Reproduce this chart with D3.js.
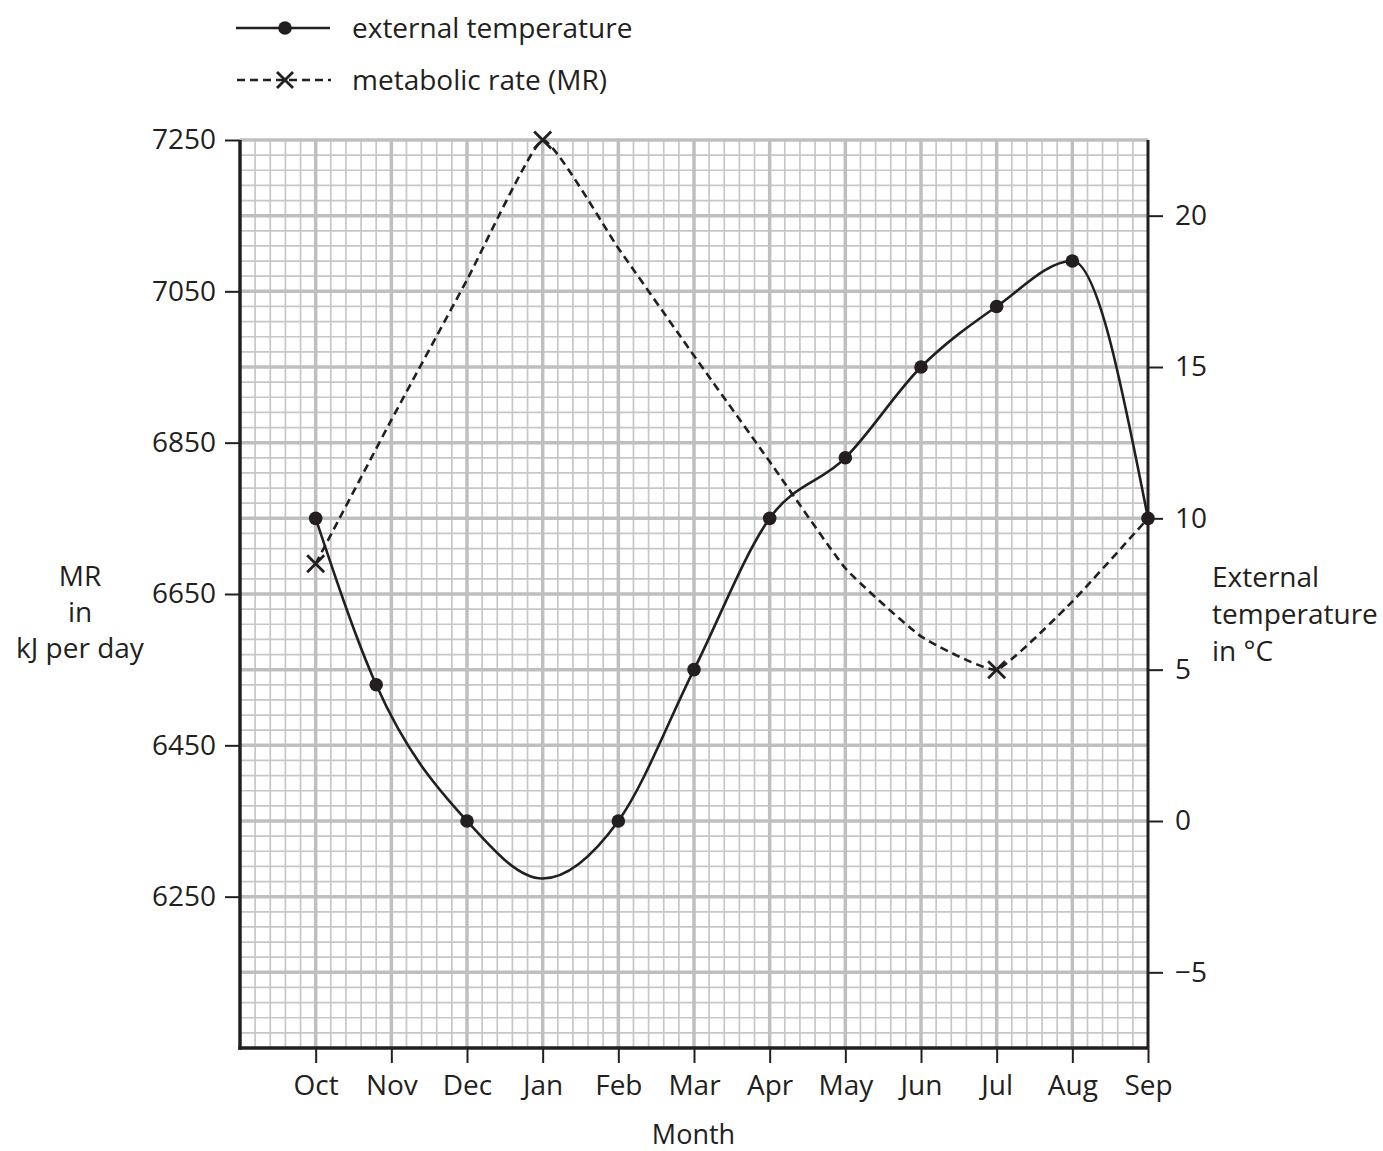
<!DOCTYPE html>
<html lang="en">
    <head>
        <style>
            body {
                margin: 0;
                background: #fff;
            }
            text {
                font-family: "Open Sans", sans-serif;
                font-size: 28px;
                fill: #231f20;
            }
            .minor {
                stroke: #c7c7c9;
                stroke-width: 1.7px;
            }
            .major {
                stroke: #bfbfc1;
                stroke-width: 3.5px;
            }
            .axisline {
                stroke: #231f20;
                stroke-width: 3.5px;
            }
            .tick line {
                stroke: #231f20;
                stroke-width: 2px;
            }
            .temp {
                fill: none;
                stroke: #231f20;
                stroke-width: 2.6px;
            }
            .mr {
                fill: none;
                stroke: #231f20;
                stroke-width: 2.6px;
                stroke-dasharray: 8 5;
            }
            .cross {
                stroke: #231f20;
                stroke-width: 2.8px;
            }
        </style>
        <script src="https://d3js.org/d3.v7.min.js"></script>
        <title>MR and external temperature</title>
    </head>
    <body>
        <div id="chart"></div>
        <script>
            // data
            var months = ["Oct", "Nov", "Dec", "Jan", "Feb", "Mar", "Apr", "May", "Jun", "Jul", "Aug", "Sep"];

            // temperature: position on the month axis (Nov point sits left of its line), value in °C
            // Jan has no dot but the curve runs down to about -1.9 there
            var tempPos = [0, 0.8, 2, 3, 4, 5, 6, 7, 8, 9, 10, 11];
            var tempValues = [10, 4.5, 0, -1.9, 0, 5, 10, 12, 15, 17, 18.5, 10];
            var tempDot = [true, true, true, false, true, true, true, true, true, true, true, true];

            // metabolic rate, crosses only on the plotted months
            var mrValues = [6690, 6880, 7065, 7250, 7107, 6965, 6825, 6684, 6594, 6550, 6640, 6750];
            var mrCrosses = ["Oct", "Jan", "Jul"];

            var leftTicks = [6250, 6450, 6650, 6850, 7050, 7250];
            var rightTicks = [-5, 0, 5, 10, 15, 20];

            var margin = {top: 140, right: 235, bottom: 103, left: 240},
                width = 1383 - margin.left - margin.right,
                height = 1151 - margin.top - margin.bottom;

            var svg = d3.select("#chart")
                .append("svg")
                    .attr("width", 1383)
                    .attr("height", 1151);

            var g = svg.append("g")
                .attr("transform", "translate(" + margin.left + "," + margin.top + ")");

            var x = d3.scaleLinear().domain([-1, 11]).range([0, width]);
            var yL = d3.scaleLinear().domain([6050, 7250]).range([height, 0]);
            var yR = d3.scaleLinear().domain([-7.5, 22.5]).range([height, 0]);

            // graph paper
            var vx = d3.range(-1, 11.01, 0.2);
            var hy = d3.range(6050, 7250.1, 20);

            g.selectAll(".vminor")
                .data(vx.filter(function(d) { return Math.abs(d - Math.round(d)) > 0.01; }))
                .enter().append("line")
                    .attr("class", "minor")
                    .attr("x1", function(d) { return x(d); })
                    .attr("x2", function(d) { return x(d); })
                    .attr("y1", 0)
                    .attr("y2", height);

            g.selectAll(".hminor")
                .data(hy.filter(function(d) { return (d - 6050) % 100 != 0; }))
                .enter().append("line")
                    .attr("class", "minor")
                    .attr("x1", 0)
                    .attr("x2", width)
                    .attr("y1", function(d) { return yL(d); })
                    .attr("y2", function(d) { return yL(d); });

            g.selectAll(".vmajor")
                .data(d3.range(0, 11))
                .enter().append("line")
                    .attr("class", "major")
                    .attr("x1", function(d) { return x(d); })
                    .attr("x2", function(d) { return x(d); })
                    .attr("y1", 0)
                    .attr("y2", height);

            g.selectAll(".hmajor")
                .data(d3.range(6150, 7250.1, 100))
                .enter().append("line")
                    .attr("class", "major")
                    .attr("x1", 0)
                    .attr("x2", width)
                    .attr("y1", function(d) { return yL(d); })
                    .attr("y2", function(d) { return yL(d); });

            // axes
            var leftAxis = g.append("g")
                .call(d3.axisLeft(yL).tickValues(leftTicks).tickSize(15).tickSizeOuter(0).tickPadding(9).tickFormat(d3.format("d")));
            var rightAxis = g.append("g")
                .attr("transform", "translate(" + width + ",0)")
                .call(d3.axisRight(yR).tickValues(rightTicks).tickSize(15).tickSizeOuter(0).tickPadding(12));
            var bottomAxis = g.append("g")
                .attr("transform", "translate(0," + height + ")")
                .call(d3.axisBottom(x).tickValues(d3.range(0, 12)).tickSize(15).tickSizeOuter(0).tickPadding(12)
                    .tickFormat(function(d) { return months[d]; }));

            [leftAxis, rightAxis, bottomAxis].forEach(function(a) {
                a.select(".domain").remove();
                a.attr("font-size", null).attr("font-family", null);
            });

            g.append("line").attr("class", "axisline")
                .attr("x1", 0).attr("x2", 0).attr("y1", 0).attr("y2", height + 1.75);
            g.append("line").attr("class", "axisline")
                .attr("x1", width).attr("x2", width).attr("y1", 0).attr("y2", height)
                .style("stroke-width", "3px");
            g.append("line").attr("class", "axisline")
                .attr("x1", -1.75).attr("x2", width).attr("y1", height).attr("y2", height);

            // metabolic rate
            var mrLine = d3.line()
                .curve(d3.curveCardinal.tension(0.6))
                .x(function(d, i) { return x(i); })
                .y(function(d) { return yL(d); });

            g.append("path")
                .datum(mrValues)
                .attr("class", "mr")
                .attr("d", mrLine);

            var cs = 8.5;
            mrCrosses.forEach(function(m) {
                var i = months.indexOf(m);
                var cx = x(i), cy = yL(mrValues[i]);
                g.append("path")
                    .attr("class", "cross")
                    .attr("d", "M" + (cx - cs) + "," + (cy - cs) + "L" + (cx + cs) + "," + (cy + cs) +
                               "M" + (cx - cs) + "," + (cy + cs) + "L" + (cx + cs) + "," + (cy - cs));
            });

            // external temperature
            var tempData = tempPos.map(function(p, i) { return {pos: p, value: tempValues[i], dot: tempDot[i]}; });

            var tempLine = d3.line()
                .curve(d3.curveMonotoneX)
                .x(function(d) { return x(d.pos); })
                .y(function(d) { return yR(d.value); });

            g.append("path")
                .datum(tempData)
                .attr("class", "temp")
                .attr("d", tempLine);

            g.selectAll(".dot")
                .data(tempData.filter(function(d) { return d.dot; }))
                .enter().append("circle")
                    .attr("cx", function(d) { return x(d.pos); })
                    .attr("cy", function(d) { return yR(d.value); })
                    .attr("r", 6.8)
                    .attr("fill", "#231f20");

            // axis titles
            g.append("text")
                .attr("x", width / 2 - 0.5)
                .attr("y", height + 96)
                .attr("text-anchor", "middle")
                .style("font-size", "27px")
                .text("Month");

            var leftTitle = svg.append("text").attr("text-anchor", "middle");
            ["MR", "in", "kJ per day"].forEach(function(t, i) {
                leftTitle.append("tspan").attr("x", 80).attr("y", 586 + i * 36).text(t);
            });

            var rightTitle = svg.append("text");
            ["External", "temperature", "in °C"].forEach(function(t, i) {
                rightTitle.append("tspan").attr("x", 1212).attr("y", 587 + i * 37).text(t);
            });

            // legend
            var legend = svg.append("g");
            legend.append("line").attr("class", "temp")
                .attr("x1", 236).attr("x2", 330).attr("y1", 28).attr("y2", 28);
            legend.append("circle").attr("cx", 285).attr("cy", 28).attr("r", 6.8).attr("fill", "#231f20");
            legend.append("text").attr("x", 352).attr("y", 38).text("external temperature");

            legend.append("line").attr("class", "mr")
                .attr("x1", 237).attr("x2", 331).attr("y1", 80).attr("y2", 80);
            legend.append("path").attr("class", "cross")
                .attr("d", "M277,72L293,88M277,88L293,72");
            legend.append("text").attr("x", 352).attr("y", 90).text("metabolic rate (MR)");
        </script>
    </body>
</html>
